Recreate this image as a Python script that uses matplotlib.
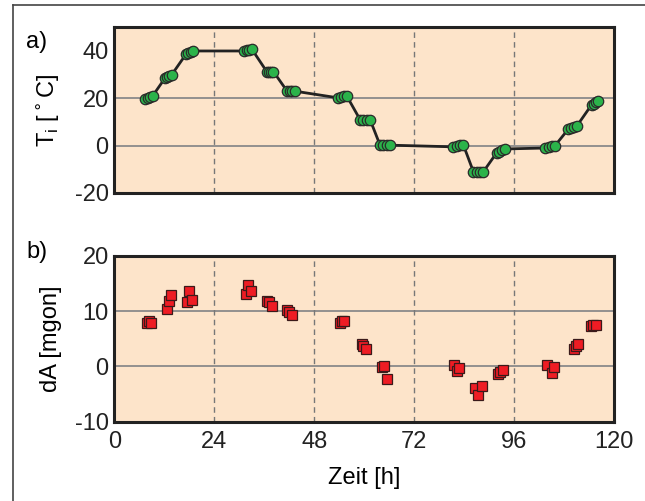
import matplotlib.pyplot as plt
from matplotlib.lines import Line2D

plt.rcParams['font.family'] = ['Liberation Sans', 'DejaVu Sans']
plt.rcParams['axes.unicode_minus'] = False

# a) Temperatur
t_temp = [7.4, 8.0, 8.6, 9.2,
          12.2, 12.7, 13.2, 13.8,
          17.2, 17.8, 18.4, 19.0,
          31.2, 31.8, 32.4, 33.0,
          36.6, 37.1, 37.6, 38.2,
          41.5, 42.1, 42.7, 43.4,
          53.7, 54.4, 55.1, 55.8,
          59.0, 59.8, 60.6, 61.4,
          63.8, 64.6, 65.4, 66.2,
          81.4, 82.2, 83.0, 83.8,
          86.2, 87.0, 87.8, 88.6,
          91.8, 92.4, 93.1, 93.8,
          103.5, 104.3, 105.0, 105.8,
          109.0, 109.7, 110.4, 111.0,
          114.6, 115.1, 115.7, 116.2]
temp = [19.7, 20.1, 20.5, 21.0,
        28.6, 29.1, 29.6, 30.0,
        38.6, 39.1, 39.6, 40.0,
        40.0, 40.3, 40.6, 40.8,
        31.3, 31.3, 31.3, 31.3,
        23.0, 23.0, 23.0, 23.0,
        20.2, 20.5, 20.8, 21.0,
        11.0, 11.0, 11.0, 11.0,
        0.2, 0.2, 0.2, 0.2,
        -0.5, -0.2, 0.1, 0.3,
        -11.0, -11.0, -11.0, -11.0,
        -3.0, -2.5, -1.9, -1.4,
        -1.0, -0.7, -0.3, 0.0,
        7.0, 7.4, 7.8, 8.2,
        17.3, 17.8, 18.3, 18.7]

# b) dA
t_da = [7.8, 8.3, 8.8,
        12.6, 13.1, 13.6,
        17.4, 17.9, 18.6,
        31.5, 32.2, 32.7,
        36.6, 37.1, 37.8,
        41.5, 42.0, 42.6,
        54.2, 54.7, 55.2,
        59.4, 59.8, 60.4,
        64.2, 64.8, 65.4,
        81.6, 82.2, 82.8,
        86.6, 87.2, 88.2,
        92.2, 92.6, 93.2,
        103.8, 105.0, 105.5,
        110.4, 110.9, 111.4,
        114.5, 115.0, 115.7]
da = [7.9, 8.2, 7.8,
      10.3, 11.8, 12.9,
      11.6, 13.6, 12.0,
      13.1, 14.7, 13.6,
      11.8, 11.6, 10.9,
      10.2, 9.8, 9.3,
      7.9, 8.2, 8.2,
      4.0, 3.7, 3.2,
      -0.05, 0.0, -2.3,
      0.2, -0.8, -0.35,
      -3.9, -5.2, -3.6,
      -1.3, -1.0, -0.6,
      0.2, -1.25, -0.2,
      3.1, 3.7, 4.0,
      7.3, 7.5, 7.4]

x_ticks = [0, 24, 48, 72, 96, 120]

bg = '#fde4ca'
fs = 17

fig = plt.figure(figsize=(6.45, 5.01), dpi=100)
ax1 = fig.add_axes([0.1772, 0.6148, 0.775, 0.3307])
ax2 = fig.add_axes([0.1772, 0.1583, 0.775, 0.3313])

def style(ax, ylim, yticks):
    ax.set_facecolor(bg)
    ax.set_xlim(0, 120)
    ax.set_ylim(*ylim)
    ax.set_yticks(yticks)
    ax.set_xticks(x_ticks)
    for y in yticks[1:-1]:
        ax.axhline(y, color='#8a8a8a', lw=1.3, zorder=1)
    for x in x_ticks[1:-1]:
        ax.axvline(x, color='#777777', lw=1.0, ls=(0, (4, 3)), zorder=1)
    for s in ax.spines.values():
        s.set_linewidth(2.2)
        s.set_color('#222222')
    ax.tick_params(length=0, labelsize=fs, colors='#222222')
    ax.tick_params(axis='y', pad=4)
    ax.tick_params(axis='x', pad=7)

style(ax1, (-20, 50), [-20, 0, 20, 40])
style(ax2, (-10, 20), [-10, 0, 10, 20])
ax1.set_xticklabels([])

ax1.plot(t_temp, temp, color='#222222', lw=2, zorder=2)
ax1.plot(t_temp, temp, ls='none', marker='o', ms=7.5, mfc='#2bb34a',
         mec='#2a2a2a', mew=0.9, zorder=3)
ax1.set_ylabel('T$_\\mathregular{i}$ [$^\\circ$C]', fontsize=fs, labelpad=9)

ax2.plot(t_da, da, ls='none', marker='s', ms=6.5, mfc='#ee1c24',
         mec='#3a1a1a', mew=0.9, zorder=3)
ax2.set_ylabel('dA [mgon]', fontsize=fs, labelpad=9)
ax2.set_xlabel('Zeit [h]', fontsize=fs, labelpad=10)

fig.text(26 / 645, 1 - 42 / 501, 'a)', fontsize=fs, va='center', ha='left')
fig.text(26 / 645, 1 - 252 / 501, 'b)', fontsize=fs, va='center', ha='left')

# frame lines of the figure box
fig.add_artist(Line2D([13 / 645, 1], [1 - 5 / 501] * 2, color='#444444', lw=1.2))
fig.add_artist(Line2D([13 / 645] * 2, [0, 1 - 5 / 501], color='#444444', lw=1.2))

fig.savefig('out.png', dpi=100)
